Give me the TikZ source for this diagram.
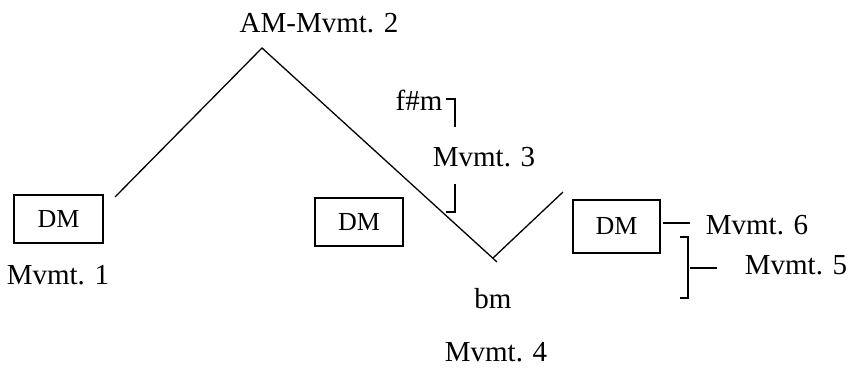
\documentclass[tikz,border=0pt]{standalone}
\usepackage{fontspec}
\setmainfont{Liberation Serif}
\begin{document}
\begin{tikzpicture}[x=0.5pt,y=-0.5pt,line width=0.65pt,
  lbl/.style={inner sep=0pt,font=\fontsize{14.5}{17}\selectfont},
  dmbox/.style={draw,inner sep=0pt,font=\fontsize{13}{15}\selectfont},
  conn/.style={line cap=butt}]
\useasboundingbox (0,0) rectangle (849,368);

% key boxes
\node[dmbox,minimum width=44.5pt,minimum height=24pt] (dm1) at (58.5,219) {DM};
\node[dmbox,minimum width=44pt,minimum height=24pt] (dm2) at (359,222) {DM};
\node[dmbox,minimum width=43.5pt,minimum height=26.5pt] (dm3) at (616.5,226.5) {DM};

% labels
\node[lbl] (m1) at (58,275) {Mvmt. 1};
\node[lbl] (m2) at (319,23) {AM-Mvmt. 2};
\node[lbl] (fsm) at (419,100) {f\#m};
\node[lbl] (m3) at (484,157) {Mvmt. 3};
\node[lbl] (bm) at (493,299) {bm};
\node[lbl] (m4) at (496,352) {Mvmt. 4};
\node[lbl] (m6) at (757,225) {Mvmt. 6};
\node[lbl] (m5) at (796,265) {Mvmt. 5};

% tonal path
\coordinate (start) at (115,197);
\coordinate (peak) at (262,48);
\coordinate (low) at (497,262);
\coordinate (rise) at (493,258);
\coordinate (rend) at (563,192);
\draw[conn] (start) -- (peak) -- (low);
\draw[conn] (rise) -- (rend);

% bracket around Mvmt. 3
\coordinate (b3a) at (446,99);
\coordinate (b3b) at (455,99);
\coordinate (b3c) at (455,127);
\coordinate (b3d) at (455,184);
\coordinate (b3e) at (455,212);
\coordinate (b3f) at (446,212);
\draw[conn] (b3a) -- (b3b) -- (b3c);
\draw[conn] (b3d) -- (b3e) -- (b3f);

% Mvmt. 6 and Mvmt. 5 marks
\coordinate (t6a) at (663,223);
\coordinate (t6b) at (690,223);
\draw[conn] (t6a) -- (t6b);
\coordinate (b5a) at (680,237);
\coordinate (b5b) at (688,237);
\coordinate (b5c) at (688,298);
\coordinate (b5d) at (680,298);
\draw[conn] (b5a) -- (b5b) -- (b5c) -- (b5d);
\coordinate (t5a) at (690,268);
\coordinate (t5b) at (717,268);
\draw[conn] (t5a) -- (t5b);
\end{tikzpicture}
\end{document}
